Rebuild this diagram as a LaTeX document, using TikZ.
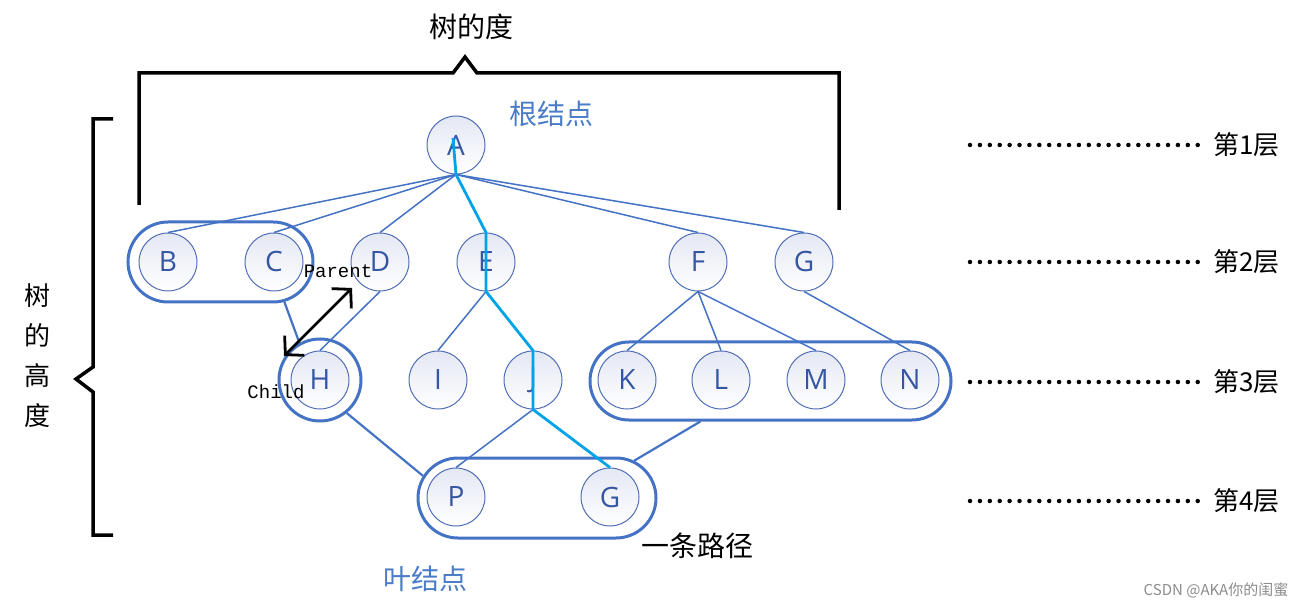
\documentclass[tikz,border=0pt]{standalone}
\usepackage{fontspec}
\setmainfont{Open Sans}
\newfontfamily\cjk{Noto Sans CJK SC}
\newfontfamily\monof{Liberation Mono}
\usetikzlibrary{arrows.meta,shapes.misc,calc}
\definecolor{nodeline}{HTML}{4F6DB5}
\definecolor{nodetext}{HTML}{3556A3}
\definecolor{edgeblue}{HTML}{4472C4}
\definecolor{pathcyan}{HTML}{00A2E8}
\definecolor{labelblue}{HTML}{4A7CC8}
\definecolor{nodefill}{HTML}{E4E8F4}
\tikzset{
  tnode/.style={circle, draw=nodeline, line width=1pt, minimum size=58pt, inner sep=0pt,
    top color=nodefill, bottom color=white, text=nodetext, font=\fontsize{28}{28}\selectfont},
  edge/.style={draw=edgeblue, line width=1.5pt},
  grp/.style={rounded rectangle, draw=edgeblue, line width=3pt, inner sep=0pt},
  grpline/.style={draw=edgeblue, line width=2.2pt},
  cyanpath/.style={draw=pathcyan, line width=2.8pt, line join=round},
  bracket/.style={draw=black, line width=3.5pt, line join=miter},
  dotline/.style={draw=black, line width=4.5pt, line cap=round, dash pattern=on 0pt off 9.9pt},
  cjklabel/.style={font=\cjk\fontsize{28}{28}\selectfont},
  layerlabel/.style={font=\cjk\fontsize{26}{26}\selectfont, anchor=west, inner sep=0pt},
  monolabel/.style={font=\monof\fontsize{19}{19}\selectfont, inner sep=0pt}
}
\begin{document}
\begin{tikzpicture}[x=1pt,y=-1pt]
\useasboundingbox (0,0) rectangle (1306,609);
% groups (drawn first)
\node[grp, minimum width=185pt, minimum height=80pt] (BC) at (220.5,262) {};
\node[circle, draw=edgeblue, line width=3pt, minimum size=82pt, inner sep=0pt] (HH) at (320,380) {};
\node[grp, minimum width=361pt, minimum height=78pt] (KN) at (770.5,381) {};
\node[grp, minimum width=238pt, minimum height=80pt] (PG) at (537,498) {};
% nodes
\node[tnode] (A) at (456,145) {A};
\node[tnode] (B) at (168,262) {B};
\node[tnode] (C) at (274,262) {C};
\node[tnode] (D) at (380,262) {D};
\node[tnode] (E) at (486,262) {E};
\node[tnode] (F) at (698,262) {F};
\node[tnode] (G) at (804,262) {G};
\node[tnode] (H) at (320,380) {H};
\node[tnode] (I) at (438,380) {I};
\node[tnode] (J) at (533,380) {J};
\node[tnode] (K) at (627,380) {K};
\node[tnode] (L) at (721,380) {L};
\node[tnode] (M) at (816,380) {M};
\node[tnode] (N) at (910,380) {N};
\node[tnode] (P) at (456,497) {P};
\node[tnode] (G2) at (610,497) {G};
% edges
\foreach \c in {B,C,D,F,G} \draw[edge] (A.south) -- (\c.north);
\draw[edge] (D.south) -- (H.north);
\draw[edge] (E.south) -- (I.north);
\foreach \c in {K,L,M} \draw[edge] (F.south) -- (\c.north);
\draw[edge] (G.south) -- (N.north);
\draw[edge] (J.south) -- (P.north);
% group connectors
\draw[grpline] (BC.-32) -- (HH.119);
\draw[grpline] (HH.-51) -- (PG.169);
\draw[grpline] (KN.210) -- (PG.21);
% cyan path
\coordinate (Astart) at ($(A.center)+(-3,-7)$);
\draw[cyanpath] (Astart) -- (A.south) -- (E.north) -- (E.south) -- (J.north) -- (J.south) -- (G2.north);
% parent/child arrow
\coordinate (par) at (352,288);
\coordinate (chi) at (284,356);
\draw[line width=2.8pt, {Straight Barb[length=13pt,width=28pt]}-{Straight Barb[length=13pt,width=28pt]}] (chi) -- (par);
\node[monolabel] (parent) at (338,271) {Parent};
\node[monolabel] (child) at (276,392) {Child};
% labels
\node[cjklabel, text=labelblue] (root) at (551,114) {根结点};
\node[cjklabel, text=labelblue] (leaf) at (425,579) {叶结点};
\node[cjklabel] (path) at (697,546) {一条路径};
\node[cjklabel] (degree) at (471,27) {树的度};
\node[font=\cjk\fontsize{26}{40}\selectfont, align=center] (height) at (37,356) {树\\的\\高\\度};
% brackets
\draw[bracket] (139,205) -- (139,73) -- (453,73) -- (465,57) -- (477,73) -- (839,73) -- (839,210);
\draw[bracket] (113,119) -- (93,119) -- (93,367) -- (76,379) -- (93,392) -- (93,535) -- (113,535);
% layers
\foreach \i/\y in {1/145,2/262,3/382,4/501}{
  \node[layerlabel] (lay\i) at (1213,\y) {第\i 层};
  \coordinate (ds\i) at (970,\y);
  \draw[dotline] (ds\i) -- ($(lay\i.west)+(-14,0)$);
}
\node[font=\cjk\fontsize{15}{15}\selectfont, text=black!45] (wm) at (1216,590) {CSDN @AKA你的闺蜜};
\end{tikzpicture}
\end{document}
